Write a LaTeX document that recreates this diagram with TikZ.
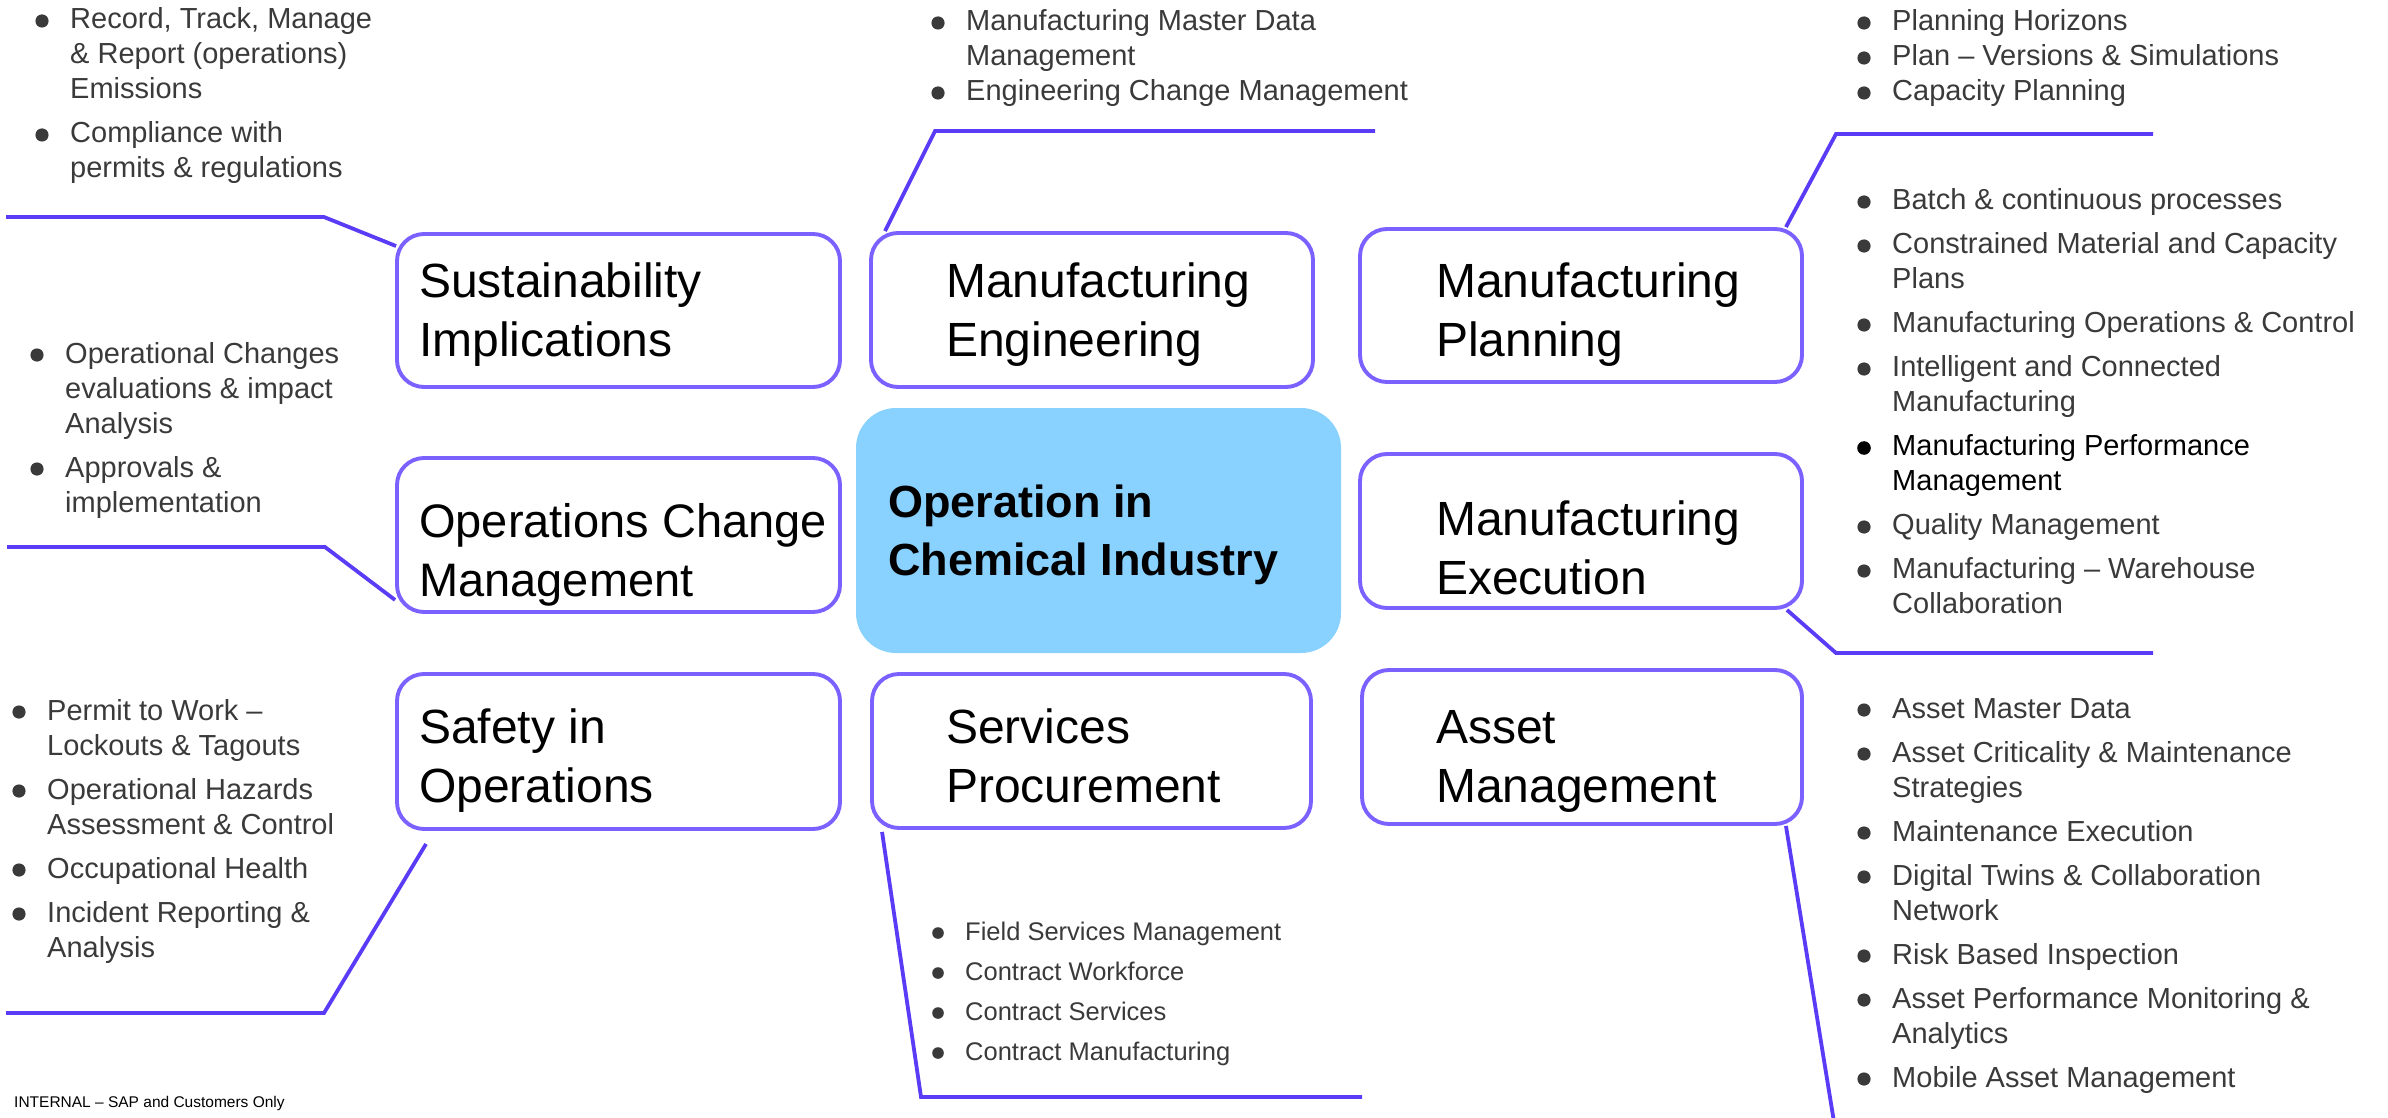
\documentclass[tikz,border=0pt]{standalone}
\usepackage{fontspec}
\setmainfont{Liberation Sans}
\usetikzlibrary{calc}
\definecolor{linec}{RGB}{91,60,246}
\definecolor{boxc}{RGB}{123,97,255}
\definecolor{hubc}{RGB}{137,209,254}
\definecolor{txtc}{RGB}{58,58,58}
\newcommand\lst[1]{\begin{tabular}[t]{@{}l@{}}#1\end{tabular}}
\begin{document}
\begin{tikzpicture}[x=1pt,y=-1pt,
  box/.style={draw=boxc, line width=3.9pt, rounded corners=27pt, fill=white, inner sep=0pt},
  hub/.style={fill=hubc, rounded corners=40pt, inner sep=0pt},
  conn/.style={draw=linec, line width=3.8pt, line join=miter},
  lbl/.style={anchor=base west, inner sep=0pt, font=\fontsize{48}{59}\selectfont, text=black},
  hubtxt/.style={anchor=base west, inner sep=0pt, font=\fontsize{45}{58}\selectfont\bfseries, text=black},
  blt/.style={anchor=base west, inner sep=0pt, font=\fontsize{29}{35}\selectfont, text=txtc},
  bltsm/.style={anchor=base west, inner sep=0pt, font=\fontsize{25.5}{40}\selectfont, text=txtc},
  dotc/.style={fill=txtc},
]
\useasboundingbox (0,0) rectangle (2388,1118);

% ---------- boxes ----------
\node[box, minimum width=443pt, minimum height=153pt] (sust)   at (618.5,310.5) {};
\node[box, minimum width=442pt, minimum height=154pt] (meng)   at (1092,310) {};
\node[box, minimum width=442pt, minimum height=153pt] (mplan)  at (1581,305.5) {};
\node[box, minimum width=443pt, minimum height=154pt] (ocm)    at (618.5,535) {};
\node[hub, minimum width=485pt, minimum height=245pt] (hub)    at (1098.5,530.5) {};
\node[box, minimum width=442pt, minimum height=154pt] (mexec)  at (1581,531) {};
\node[box, minimum width=443pt, minimum height=155pt] (safety) at (618.5,751.5) {};
\node[box, minimum width=439pt, minimum height=154pt] (serv)   at (1091.5,751) {};
\node[box, minimum width=440pt, minimum height=154pt] (asset)  at (1582,747) {};

% ---------- box labels ----------
\node[lbl] (tsust)   at (419,297)  {\lst{Sustainability\\Implications}};
\node[lbl] (tmeng)   at (946,297)  {\lst{Manufacturing\\Engineering}};
\node[lbl] (tmplan)  at (1436,297) {\lst{Manufacturing\\Planning}};
\node[lbl, font=\fontsize{47}{59}\selectfont] (tocm) at (419,537) {\lst{Operations Change\\Management}};
\node[lbl] (tmexec)  at (1436,535) {\lst{Manufacturing\\Execution}};
\node[lbl] (tsafety) at (419,743)  {\lst{Safety in\\Operations}};
\node[lbl] (tserv)   at (946,743)  {\lst{Services\\Procurement}};
\node[lbl] (tasset)  at (1436,743) {\lst{Asset\\Management}};
\node[hubtxt] (thub) at (888,517)  {\lst{Operation in\\Chemical Industry}};

% ---------- connectors ----------
\coordinate (s1) at (6,217);    \coordinate (s2) at (324,217);
\draw[conn] (s1) -- (s2) -- ($(sust.north west)+(1,14)$);
\coordinate (e1) at (935,131);  \coordinate (e2) at (1375,131);
\draw[conn] ($(meng.north west)+(16,0)$) -- (e1) -- (e2);
\coordinate (p1) at (1836,134); \coordinate (p2) at (2153,134);
\draw[conn] ($(mplan.north east)+(-18,0)$) -- (p1) -- (p2);
\coordinate (o1) at (7,547);    \coordinate (o2) at (325,547);
\draw[conn] (o1) -- (o2) -- ($(ocm.south west)+(0,-14)$);
\coordinate (x1) at (1836,653); \coordinate (x2) at (2153,653);
\draw[conn] ($(mexec.south east)+(-17,0)$) -- (x1) -- (x2);
\coordinate (f1) at (324,1013); \coordinate (f2) at (6,1013);
\draw[conn] ($(safety.south west)+(31,13)$) -- (f1) -- (f2);
\coordinate (v1) at (921,1097); \coordinate (v2) at (1362,1097);
\draw[conn] ($(serv.south west)+(12,2)$) -- (v1) -- (v2);
\coordinate (a1) at (1834,1122);
\draw[conn] ($(asset.south east)+(-18,0)$) -- (a1);

% ---------- bullet lists ----------
% top left
\node[blt] (ltl) at (70,29) {\lst{Record, Track, Manage\\\& Report (operations)\\Emissions\\[9pt]Compliance with\\permits \& regulations}};
\foreach \y in {29,143} \fill[dotc] (42,\y-8) circle[radius=6.6pt];
% middle left
\node[blt] (lml) at (65,363) {\lst{Operational Changes\\evaluations \& impact\\Analysis\\[9pt]Approvals \&\\implementation}};
\foreach \y in {363,477} \fill[dotc] (37,\y-8) circle[radius=6.6pt];
% bottom left
\node[blt] (lbl) at (47,720) {\lst{Permit to Work --\\Lockouts \& Tagouts\\[9pt]Operational Hazards\\Assessment \& Control\\[9pt]Occupational Health\\[9pt]Incident Reporting \&\\Analysis}};
\foreach \y in {720,799,878,922} \fill[dotc] (19,\y-8) circle[radius=6.6pt];
% top middle
\node[blt] (ltm) at (966,31) {\lst{Manufacturing Master Data\\Management\\Engineering Change Management}};
\foreach \y in {31,101} \fill[dotc] (938,\y-8) circle[radius=6.6pt];
% top right
\node[blt] (ltr) at (1892,31) {\lst{Planning Horizons\\Plan -- Versions \& Simulations\\Capacity Planning}};
\foreach \y in {31,66,101} \fill[dotc] (1864,\y-8) circle[radius=6.6pt];
% right middle
\node[blt] (lrm) at (1892,210) {\lst{Batch \& continuous processes\\[9pt]Constrained Material and Capacity\\Plans\\[9pt]Manufacturing Operations \& Control\\[9pt]Intelligent and Connected\\Manufacturing\\[9pt]\textcolor{black}{Manufacturing Performance}\\\textcolor{black}{Management}\\[9pt]Quality Management\\[9pt]Manufacturing -- Warehouse\\Collaboration}};
\foreach \y in {210,254,333,377,535,579} \fill[dotc] (1864,\y-8) circle[radius=6.6pt];
\fill[black] (1864,448) circle[radius=6.8pt];
% right bottom
\node[blt] (lrb) at (1892,718) {\lst{Asset Master Data\\[9pt]Asset Criticality \& Maintenance\\Strategies\\[9pt]Maintenance Execution\\[9pt]Digital Twins \& Collaboration\\Network\\[9pt]Risk Based Inspection\\[9pt]Asset Performance Monitoring \&\\Analytics\\[9pt]Mobile Asset Management}};
\foreach \y in {718,762,841,885,964,1008,1087} \fill[dotc] (1864,\y-8) circle[radius=6.6pt];
% bottom middle
\node[bltsm] (lbm) at (965,940) {\lst{Field Services Management\\Contract Workforce\\Contract Services\\Contract Manufacturing}};
\foreach \y in {940,980,1020,1060} \fill[dotc] (938,\y-7) circle[radius=5.8pt];

% ---------- footer ----------
\node[anchor=base west, inner sep=0pt, font=\fontsize{15.5}{18}\selectfont] (foot) at (14,1107) {INTERNAL -- SAP and Customers Only};
\end{tikzpicture}
\end{document}
